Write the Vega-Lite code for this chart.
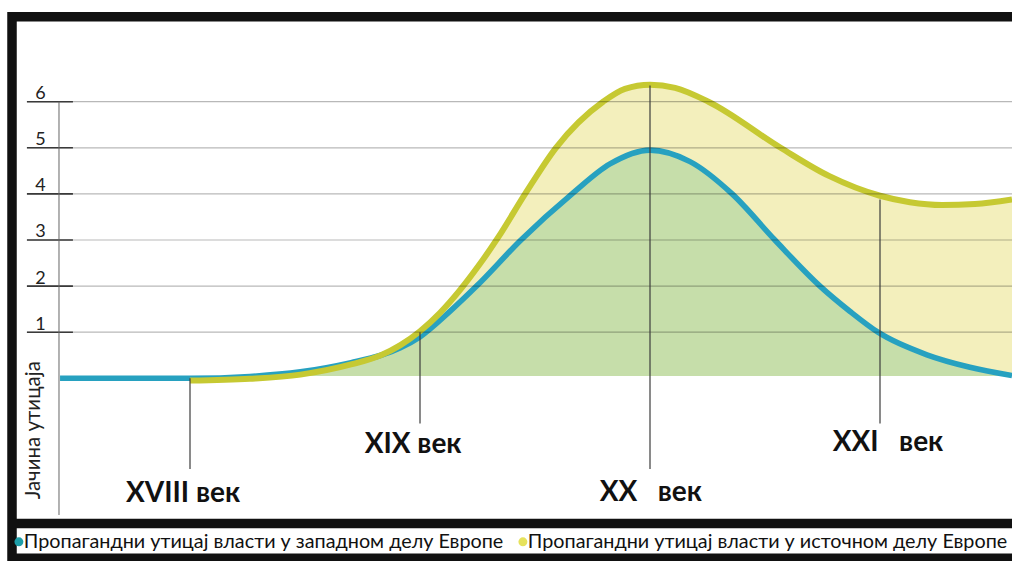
{
  "$schema": "https://vega.github.io/schema/vega-lite/v6.json",
  "width": 1000,
  "height": 541.5,
  "autosize": {"type": "none"},
  "padding": {"left": 12, "top": 16.75, "right": 0, "bottom": 2.75},
  "background": "white",
  "view": {"fill": "white", "stroke": "#111111", "strokeWidth": 9.5, "strokeDash": [1000, 541.5, 1541.5]},
  "datasets": {
    "curves": [
      {"series": "Пропагандни утицај власти у западном делу Европе", "year": 1643.5, "v": 0},
      {"series": "Пропагандни утицај власти у западном делу Европе", "year": 1700, "v": 0},
      {"series": "Пропагандни утицај власти у западном делу Европе", "year": 1726, "v": 0.04},
      {"series": "Пропагандни утицај власти у западном делу Европе", "year": 1748, "v": 0.14},
      {"series": "Пропагандни утицај власти у западном делу Европе", "year": 1770, "v": 0.34},
      {"series": "Пропагандни утицај власти у западном делу Европе", "year": 1783, "v": 0.5},
      {"series": "Пропагандни утицај власти у западном делу Европе", "year": 1791.3, "v": 0.66},
      {"series": "Пропагандни утицај власти у западном делу Европе", "year": 1800, "v": 0.9},
      {"series": "Пропагандни утицај власти у западном делу Европе", "year": 1813, "v": 1.45},
      {"series": "Пропагандни утицај власти у западном делу Европе", "year": 1824.6, "v": 2.0},
      {"series": "Пропагандни утицај власти у западном делу Европе", "year": 1843.9, "v": 3.0},
      {"series": "Пропагандни утицај власти у западном делу Европе", "year": 1866.1, "v": 4.0},
      {"series": "Пропагандни утицај власти у западном делу Европе", "year": 1882.6, "v": 4.65},
      {"series": "Пропагандни утицај власти у западном делу Европе", "year": 1900, "v": 4.95},
      {"series": "Пропагандни утицај власти у западном делу Европе", "year": 1917.4, "v": 4.7},
      {"series": "Пропагандни утицај власти у западном делу Европе", "year": 1935.7, "v": 4.0},
      {"series": "Пропагандни утицај власти у западном делу Европе", "year": 1954.3, "v": 3.0},
      {"series": "Пропагандни утицај власти у западном делу Европе", "year": 1973.9, "v": 2.0},
      {"series": "Пропагандни утицај власти у западном делу Европе", "year": 1987, "v": 1.45},
      {"series": "Пропагандни утицај власти у западном делу Европе", "year": 1999.1, "v": 1.0},
      {"series": "Пропагандни утицај власти у западном делу Европе", "year": 2020.4, "v": 0.51},
      {"series": "Пропагандни утицај власти у западном делу Европе", "year": 2039.1, "v": 0.24},
      {"series": "Пропагандни утицај власти у западном делу Европе", "year": 2057.4, "v": 0.06},
      {"series": "Пропагандни утицај власти у источном делу Европе", "year": 1700, "v": -0.05},
      {"series": "Пропагандни утицај власти у источном делу Европе", "year": 1726, "v": -0.01},
      {"series": "Пропагандни утицај власти у источном делу Европе", "year": 1748, "v": 0.08},
      {"series": "Пропагандни утицај власти у источном делу Европе", "year": 1770, "v": 0.3},
      {"series": "Пропагандни утицај власти у источном делу Европе", "year": 1783, "v": 0.5},
      {"series": "Пропагандни утицај власти у источном делу Европе", "year": 1791.5, "v": 0.72},
      {"series": "Пропагандни утицај власти у источном делу Европе", "year": 1800, "v": 1.02},
      {"series": "Пропагандни утицај власти у источном делу Европе", "year": 1808.7, "v": 1.42},
      {"series": "Пропагандни утицај власти у источном делу Европе", "year": 1817, "v": 1.89},
      {"series": "Пропагандни утицај власти у источном делу Европе", "year": 1825.6, "v": 2.45},
      {"series": "Пропагандни утицај власти у источном делу Европе", "year": 1833.9, "v": 3.05},
      {"series": "Пропагандни утицај власти у источном делу Европе", "year": 1845.7, "v": 4.0},
      {"series": "Пропагандни утицај власти у источном делу Европе", "year": 1859.1, "v": 5.0},
      {"series": "Пропагандни утицај власти у источном делу Европе", "year": 1879.6, "v": 6.0},
      {"series": "Пропагандни утицај власти у источном делу Европе", "year": 1889.1, "v": 6.28},
      {"series": "Пропагандни утицај власти у источном делу Европе", "year": 1900, "v": 6.37},
      {"series": "Пропагандни утицај власти у источном делу Европе", "year": 1910.9, "v": 6.3},
      {"series": "Пропагандни утицај власти у источном делу Европе", "year": 1925.4, "v": 6.0},
      {"series": "Пропагандни утицај власти у источном делу Европе", "year": 1956.8, "v": 5.0},
      {"series": "Пропагандни утицај власти у источном делу Европе", "year": 1977.8, "v": 4.39},
      {"series": "Пропагандни утицај власти у источном делу Европе", "year": 2000, "v": 3.96},
      {"series": "Пропагандни утицај власти у источном делу Европе", "year": 2013, "v": 3.82},
      {"series": "Пропагандни утицај власти у источном делу Европе", "year": 2027, "v": 3.76},
      {"series": "Пропагандни утицај власти у источном делу Европе", "year": 2041.3, "v": 3.78},
      {"series": "Пропагандни утицај власти у источном делу Европе", "year": 2057.4, "v": 3.88}
    ],
    "grid": [{"v": 1}, {"v": 2}, {"v": 3}, {"v": 4}, {"v": 5}, {"v": 6}],
    "centuries": [
      {"label": "XVIII\u00a0век", "year": 1700, "top": 0, "bottom": -1.97, "labelYear": 1697, "labelV": -2.5},
      {"label": "XIX\u00a0век", "year": 1800, "top": 1.0, "bottom": -0.98, "labelYear": 1797, "labelV": -1.44},
      {"label": "XX\u00a0\u00a0\u00a0век", "year": 1900, "top": 6.35, "bottom": -1.97, "labelYear": 1900.4, "labelV": -2.49},
      {"label": "XXI\u00a0\u00a0\u00a0век", "year": 2000, "top": 3.88, "bottom": -0.98, "labelYear": 2003.5, "labelV": -1.4}
    ]
  },
  "layer": [
    {
      "data": {"name": "curves"},
      "transform": [{"filter": "datum.series === 'Пропагандни утицај власти у источном делу Европе'"}],
      "mark": {"type": "area", "fill": "#f3efbc", "interpolate": "monotone"},
      "encoding": {
        "x": {"field": "year", "type": "quantitative", "scale": {"domain": [1622.609, 2057.391], "nice": false, "zero": false}, "axis": null},
        "y": {"field": "v", "type": "quantitative", "scale": {"domain": [-3.9035, 7.8427], "nice": false, "zero": false},
          "axis": {"values": [1, 2, 3, 4, 5, 6], "ticks": false, "tickSize": 0, "domain": false, "grid": false, "offset": -28,
            "labelPadding": 0, "labelAlign": "center", "labelBaseline": "alphabetic", "labelOffset": -3, "labelFont": "Lato",
            "labelFontSize": 18, "labelColor": "#222222", "labelFlush": false, "labelOverlap": false,
            "title": "Јачина утицаја", "titleFont": "Lato", "titleFontSize": 20.5, "titleFontWeight": "normal", "titleColor": "#222222",
            "titleX": -7, "titleY": 413, "titleAngle": -90, "titleAlign": "center", "titleBaseline": "middle"}},
        "y2": {"datum": 0.05}
      }
    },
    {
      "data": {"name": "curves"},
      "transform": [{"filter": "datum.series === 'Пропагандни утицај власти у западном делу Европе' && datum.year >= 1700"}],
      "mark": {"type": "area", "fill": "#c6deaa", "interpolate": "monotone"},
      "encoding": {
        "x": {"field": "year", "type": "quantitative", "scale": {"domain": [1622.609, 2057.391], "nice": false, "zero": false}, "axis": null},
        "y": {"field": "v", "type": "quantitative"},
        "y2": {"datum": 0.05}
      }
    },
    {
      "data": {"name": "curves"},
      "transform": [{"filter": "datum.series === 'Пропагандни утицај власти у западном делу Европе'"}],
      "mark": {"type": "line", "stroke": "#27a1c0", "strokeWidth": 5.6, "interpolate": "monotone"},
      "encoding": {
        "x": {"field": "year", "type": "quantitative", "axis": null},
        "y": {"field": "v", "type": "quantitative"}
      }
    },
    {
      "data": {"name": "curves"},
      "transform": [{"filter": "datum.series === 'Пропагандни утицај власти у источном делу Европе'"}],
      "mark": {"type": "line", "stroke": "#c6c932", "strokeWidth": 6, "interpolate": "monotone"},
      "encoding": {
        "x": {"field": "year", "type": "quantitative", "axis": null},
        "y": {"field": "v", "type": "quantitative"}
      }
    },
    {
      "data": {"name": "grid"},
      "mark": {"type": "rule", "color": "#000000", "opacity": 0.28, "strokeWidth": 1.2},
      "encoding": {
        "x": {"datum": 1629.1, "type": "quantitative", "axis": null},
        "x2": {"datum": 2057.4},
        "y": {"field": "v", "type": "quantitative"}
      }
    },
    {
      "data": {"name": "grid"},
      "mark": {"type": "rule", "color": "#3a3a3a", "strokeWidth": 1.6},
      "encoding": {
        "x": {"datum": 1629.1, "type": "quantitative", "axis": null},
        "x2": {"datum": 1649.1},
        "y": {"field": "v", "type": "quantitative"}
      }
    },
    {
      "data": {"values": [{"axisline": "y"}]},
      "mark": {"type": "rule", "color": "#666666", "strokeWidth": 1},
      "encoding": {
        "x": {"datum": 1643.04, "type": "quantitative", "axis": null},
        "y": {"datum": 6, "type": "quantitative"},
        "y2": {"datum": -2.965}
      }
    },
    {
      "data": {"name": "centuries"},
      "mark": {"type": "rule", "color": "#3c3c3c", "strokeWidth": 1.2},
      "encoding": {
        "x": {"field": "year", "type": "quantitative", "axis": null},
        "y": {"field": "top", "type": "quantitative"},
        "y2": {"field": "bottom"}
      }
    },
    {
      "data": {"name": "centuries"},
      "mark": {"type": "text", "font": "Lato", "fontWeight": "bold", "fontSize": 28, "color": "#111111", "align": "center", "baseline": "middle"},
      "encoding": {
        "x": {"field": "labelYear", "type": "quantitative", "axis": null},
        "y": {"field": "labelV", "type": "quantitative"},
        "text": {"field": "label"}
      }
    },
    {
      "data": {"values": [{"band": "separator"}]},
      "mark": {"type": "rule", "color": "#111111", "strokeWidth": 9.5},
      "encoding": {
        "y": {"datum": -3.15, "type": "quantitative"}
      }
    },
    {
      "data": {"name": "curves"},
      "transform": [{"filter": "datum.v > 100"}],
      "mark": {"type": "point", "filled": true, "opacity": 1},
      "encoding": {
        "x": {"field": "year", "type": "quantitative", "axis": null},
        "y": {"field": "v", "type": "quantitative"},
        "color": {"field": "series", "type": "nominal",
          "scale": {"domain": ["Пропагандни утицај власти у западном делу Европе", "Пропагандни утицај власти у источном делу Европе"], "range": ["#1e9ea8", "#e6e25c"]},
          "legend": {"orient": "none", "legendX": -3, "legendY": 515, "direction": "horizontal", "title": null, "symbolType": "circle",
            "symbolSize": 80, "symbolStrokeWidth": 0, "labelFont": "Lato", "labelFontSize": 19.8, "labelColor": "#111111", "labelLimit": 1000,
            "labelOffset": -5, "columnPadding": 9, "padding": 0}}
      }
    }
  ]
}
